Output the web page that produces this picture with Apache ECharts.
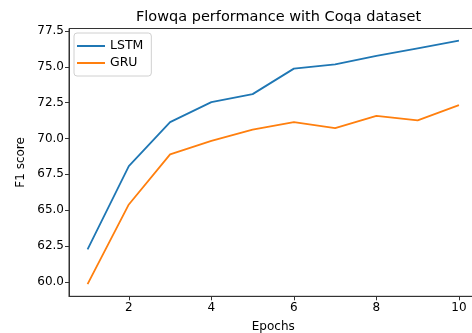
<!DOCTYPE html>
<html>
<head>
<meta charset="utf-8">
<script src="https://cdn.jsdelivr.net/npm/echarts@6/dist/echarts.min.js"></script>
<style>
html,body{margin:0;padding:0;background:#fff;}
#c{width:472px;height:333px;}
</style>
</head>
<body>
<div id="c"></div>
<script>
const epochs = [1, 2, 3, 4, 5, 6, 7, 8, 9, 10];
const lstm = [62.27, 68.08, 71.15, 72.54, 73.1, 74.88, 75.17, 75.77, 76.3, 76.83];
const gru = [59.84, 65.4, 68.9, 69.84, 70.63, 71.15, 70.73, 71.58, 71.27, 72.33];
const xTicks = [2, 4, 6, 8, 10];
const yTicks = [60, 62.5, 65, 67.5, 70, 72.5, 75, 77.5];

const font = 'DejaVu Sans';
const chart = echarts.init(document.getElementById('c'), null, {renderer: 'canvas'});
const pair = arr => epochs.map((e, i) => [e, arr[i]]);
chart.setOption({
  animation: false,
  backgroundColor: '#fff',
  title: {
    text: 'Flowqa performance with Coqa dataset',
    left: 273.5, textAlign: 'center', top: 5,
    textStyle: {fontFamily: font, fontSize: 14.5, fontWeight: 'normal', color: '#000'}
  },
  legend: {
    orient: 'vertical', left: 74, top: 33,
    padding: [6, 8, 6, 3],
    icon: 'rect', itemWidth: 28, itemHeight: 2, itemGap: 3,
    borderColor: '#d0d0d0', borderWidth: 1, borderRadius: 3,
    textStyle: {fontFamily: font, fontSize: 12.5, color: '#000', lineHeight: 14},
    data: ['LSTM', 'GRU']
  },
  grid: {
    left: 69, top: 28.5, width: 408.5, height: 267.8,
    outerBoundsMode: 'none', containLabel: false,
    show: true, borderColor: '#333', borderWidth: 1, backgroundColor: '#fff'
  },
  xAxis: {
    type: 'value', min: 0.55, max: 10.45,
    name: 'Epochs', nameLocation: 'middle', nameGap: 25,
    nameTextStyle: {fontFamily: font, fontSize: 12, color: '#000'},
    axisLine: {show: true, lineStyle: {color: '#333'}},
    axisTick: {show: true, length: 4, customValues: xTicks, lineStyle: {color: '#333'}},
    axisLabel: {customValues: xTicks, fontFamily: font, fontSize: 12, color: '#000', margin: 6},
    splitLine: {show: false}
  },
  yAxis: {
    type: 'value', min: 58.99, max: 77.68,
    name: 'F1 score', nameLocation: 'middle', nameGap: 42,
    nameTextStyle: {fontFamily: font, fontSize: 12, color: '#000'},
    axisLine: {show: true, lineStyle: {color: '#333'}},
    axisTick: {show: true, length: 4, customValues: yTicks, lineStyle: {color: '#333'}},
    axisLabel: {customValues: yTicks, fontFamily: font, fontSize: 12, color: '#000', margin: 5,
      formatter: v => v.toFixed(1)},
    splitLine: {show: false}
  },
  series: [
    {name: 'LSTM', type: 'line', data: pair(lstm), symbol: 'none',
     lineStyle: {color: '#1f77b4', width: 1.8}, itemStyle: {color: '#1f77b4'}},
    {name: 'GRU', type: 'line', data: pair(gru), symbol: 'none',
     lineStyle: {color: '#ff7f0e', width: 1.8}, itemStyle: {color: '#ff7f0e'}}
  ]
});
</script>
</body>
</html>
